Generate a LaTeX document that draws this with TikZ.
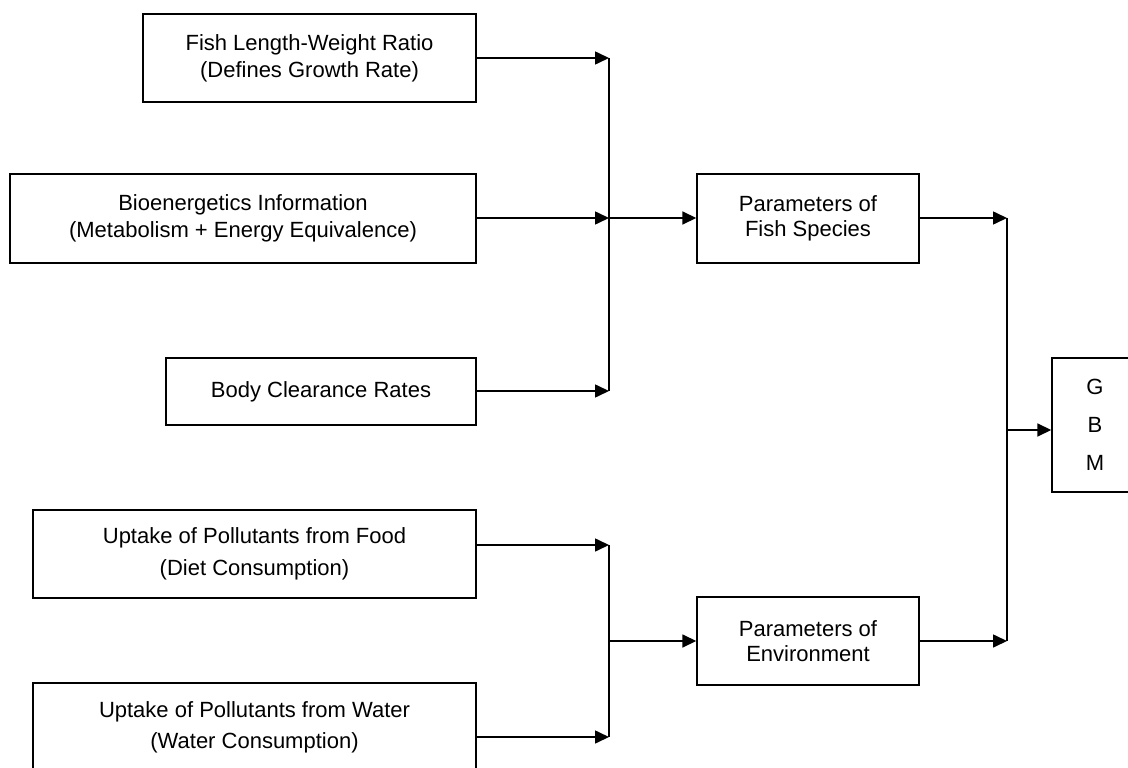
\documentclass[tikz,border=0pt]{standalone}
\usepackage{fontspec}
\setmainfont{Liberation Sans}
\usetikzlibrary{arrows.meta}
\tikzset{
  box/.style={draw=black, line width=1.4pt, inner sep=0pt, align=center, anchor=center},
  conn/.style={line width=1.6pt, draw=black},
  arr/.style={conn, -{Triangle[length=14pt,width=13pt]}}
}
\begin{document}
\begin{tikzpicture}[x=1pt,y=-1pt]
\useasboundingbox (0,0) rectangle (1128,768);
% input boxes
\node[box, minimum width=333pt, minimum height=88pt, font=\fontsize{22}{27}\selectfont] (b1) at (309.5,58)
  {Fish Length-Weight Ratio\\(Defines Growth Rate)};
\node[box, minimum width=466pt, minimum height=89pt, font=\fontsize{22}{27}\selectfont] (b2) at (243,218.5)
  {Bioenergetics Information\\(Metabolism + Energy Equivalence)};
\node[box, minimum width=310pt, minimum height=67pt, font=\fontsize{22}{27}\selectfont] (b3) at (321,391.5)
  {Body Clearance Rates};
\node[box, minimum width=443pt, minimum height=88pt, font=\fontsize{22}{32}\selectfont] (b4) at (254.5,554)
  {Uptake of Pollutants from Food\\(Diet Consumption)};
\node[box, minimum width=443pt, minimum height=88pt, font=\fontsize{22}{31}\selectfont] (b5) at (254.5,727)
  {Uptake of Pollutants from Water\\(Water Consumption)};
% parameter boxes
\node[box, minimum width=222pt, minimum height=89pt, font=\fontsize{22}{25}\selectfont] (pf) at (808,218.5)
  {Parameters of\\Fish Species};
\node[box, minimum width=222pt, minimum height=88pt, font=\fontsize{22}{25}\selectfont] (pe) at (808,641)
  {Parameters of\\Environment};
% GBM box
\node[box, minimum width=86pt, minimum height=134pt, font=\fontsize{22}{38}\selectfont] (gbm) at (1095,425)
  {G\\B\\M};
% junction coordinates
\coordinate (t1) at (609,58);
\coordinate (t2) at (609,218);
\coordinate (t3) at (609,391);
\coordinate (t4) at (609,545);
\coordinate (t5) at (609,737);
\coordinate (t6) at (609,641);
\coordinate (u1) at (1007,218);
\coordinate (u2) at (1007,641);
\coordinate (u3) at (1007,430);
% connectors group 1
\draw[arr] (b1.east |- t1) -- (t1);
\draw[arr] (b2.east |- t2) -- (t2);
\draw[arr] (b3.east |- t3) -- (t3);
\draw[conn] (t1) -- (t3);
\draw[arr] (t2) -- (pf.west |- t2);
% connectors group 2
\draw[arr] (b4.east |- t4) -- (t4);
\draw[arr] (b5.east |- t5) -- (t5);
\draw[conn] (t4) -- (t5);
\draw[arr] (t6) -- (pe.west);
% connectors to GBM
\draw[arr] (pf.east |- u1) -- (u1);
\draw[arr] (pe.east) -- (u2);
\draw[conn] (u1) -- (u2);
\draw[arr] (u3) -- (gbm.west |- u3);
\end{tikzpicture}
\end{document}
